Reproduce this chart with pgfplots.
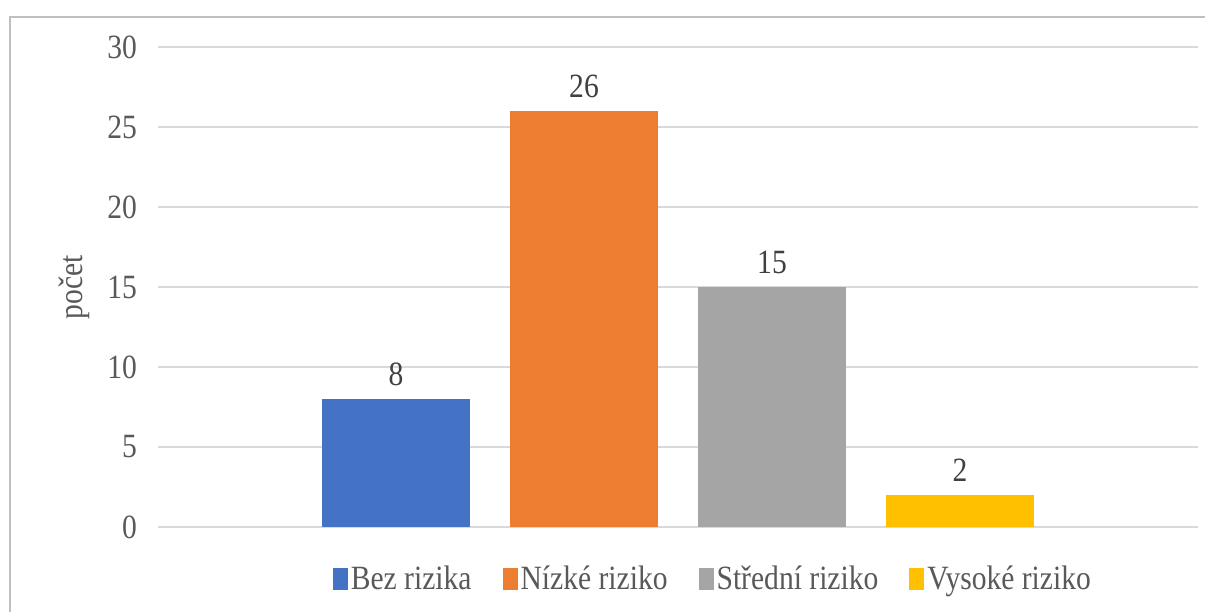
\documentclass[border=0pt]{standalone}
\usepackage{pgfplots}
\pgfplotsset{compat=1.18}
\usepackage{fontspec}
\setmainfont{Liberation Serif}[FakeStretch=0.87]
\definecolor{cblue}{HTML}{4472C4}
\definecolor{corange}{HTML}{ED7D31}
\definecolor{cgray}{HTML}{A5A5A5}
\definecolor{cyellow}{HTML}{FFC000}
\definecolor{txt}{HTML}{595959}
\definecolor{grid}{HTML}{D9D9D9}
\begin{document}
\begin{tikzpicture}
\path[use as bounding box] (0,0) rectangle (602.5pt,306pt);
\draw[color=black!25, line width=0.8pt] (5pt,0pt) -- (5pt,297.5pt) -- (602.5pt,297.5pt);
\begin{axis}[
  at={(79pt,42.5pt)}, anchor=south west,
  scale only axis, width=520pt, height=240pt,
  ybar=20pt, bar width=74pt,
  xmin=-1, xmax=1, ymin=0, ymax=30,
  ytick={0,5,...,30}, xtick=\empty,
  axis line style={draw=none},
  ymajorgrids, grid style={color=grid, line width=0.8pt},
  major tick length=0pt,
  /pgf/number format/assume math mode=true,
  tick label style={font=\fontsize{17}{20}\selectfont, color=txt},
  yticklabel style={xshift=-7pt},
  ylabel={počet}, ylabel style={font=\fontsize{17}{20}\selectfont, color=txt, at={(axis description cs:-0.059,0.5)}},
  nodes near coords,
  nodes near coords style={font=\fontsize{17}{20}\selectfont, color=black!75, inner sep=6.5pt},
  legend columns=4,
  legend style={at={(axis description cs:0.534,-0.108)}, anchor=center, draw=none,
    font=\fontsize{17}{20}\selectfont, text=txt,
    /tikz/every even column/.append style={column sep=14pt},
    nodes={inner sep=1.5pt}},
  legend image code/.code={\fill[#1,draw=none] (-1pt,-5.5pt) rectangle (6.5pt,5.5pt);},
]
\addplot[fill=cblue, draw=none] coordinates {(0,8)};
\addplot[fill=corange, draw=none] coordinates {(0,26)};
\addplot[fill=cgray, draw=none] coordinates {(0,15)};
\addplot[fill=cyellow, draw=none] coordinates {(0,2)};
\legend{Bez rizika, Nízké riziko, Střední riziko, Vysoké riziko}
\end{axis}
\end{tikzpicture}
\end{document}
